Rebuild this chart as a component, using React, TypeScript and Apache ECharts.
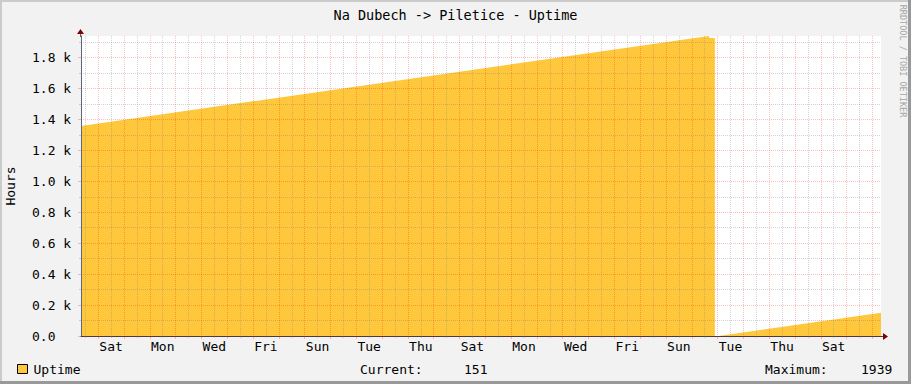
import { useEffect, useRef } from 'react';
import * as echarts from 'echarts';

const TITLE = 'Na Dubech -> Piletice - Uptime';
const SERIES_NAME = 'Uptime';
const Y_NAME = 'Hours';
const WATERMARK = 'RRDTOOL / TOBI OETIKER';

// time axis: hours relative to the first midnight shown (Sat 00:00)
const X_START = -16;
const X_END = 728;

// readings (hours, uptime in hours)
const uptimeHours = [-16, 568, 568.5, 573.5, 574, 577, 728];
const uptimeValues: (number | null)[] = [1358, 1939, 1926, 1926, null, 0, 151];

const dayLabels = ['Sat', 'Mon', 'Wed', 'Fri', 'Sun', 'Tue', 'Thu', 'Sat', 'Mon', 'Wed', 'Fri', 'Sun', 'Tue', 'Thu', 'Sat'];
const yTickValues = [0, 200, 400, 600, 800, 1000, 1200, 1400, 1600, 1800];
const yTickLabels = ['0.0', '0.2 k', '0.4 k', '0.6 k', '0.8 k', '1.0 k', '1.2 k', '1.4 k', '1.6 k', '1.8 k'];

const FONT = '"DejaVu Sans Mono", monospace';
const FILL = '#FFC73B';
const RED_GRID = 'rgba(255,0,0,0.26)';
const GREY_GRID = 'rgba(120,120,120,0.33)';

export default function App() {
  const ref = useRef<HTMLDivElement>(null);

  useEffect(() => {
    if (!ref.current) return;
    const chart = echarts.init(ref.current, undefined, { renderer: 'svg' });

    const numbers = uptimeValues.filter((v): v is number => v !== null);
    const maxVal = Math.max(...numbers);
    const current = numbers[numbers.length - 1];

    const midnights: number[] = [];
    for (let h = 0; h <= X_END; h += 24) if (h > X_START && h < X_END) midnights.push(h);
    const noons: number[] = [];
    for (let h = -12; h <= X_END; h += 24) if (h > X_START && h < X_END) noons.push(h);
    const labelHours = dayLabels.map((_, i) => 12 + 48 * i);
    const yMinor: number[] = [];
    for (let v = 100; v < maxVal; v += 200) yMinor.push(v);

    const data = uptimeHours.map((h, i) => [h, uptimeValues[i]]);

    const textStyle = { fontFamily: FONT, fontSize: 13, color: '#000' };

    chart.setOption({
      animation: false,
      backgroundColor: '#F2F2F2',
      title: {
        text: TITLE,
        left: 'center',
        top: 8,
        padding: 0,
        textStyle: { fontFamily: FONT, fontSize: 13.5, fontWeight: 'normal', color: '#000', lineHeight: 14 },
      },
      legend: {
        left: 17,
        top: 362.5,
        padding: 0,
        itemWidth: 10,
        itemHeight: 9,
        icon: 'rect',
        itemStyle: { borderColor: '#000', borderWidth: 1 },
        textStyle: { ...textStyle, lineHeight: 13, padding: [0, 0, 0, 1] },
        data: [SERIES_NAME],
      },
      grid: {
        left: 81,
        top: 36,
        width: 800,
        height: 300,
        show: true,
        backgroundColor: '#FFFFFF',
        borderWidth: 0,
        containLabel: false,
        outerBoundsMode: 'none',
      },
      xAxis: [
        {
          type: 'value', min: X_START, max: X_END, position: 'bottom', z: 3,
          axisLine: { show: true, onZero: false, lineStyle: { color: '#4a3a3a', width: 1 } },
          axisTick: { show: true, customValues: midnights, length: 3, inside: false, lineStyle: { color: RED_GRID } },
          axisLabel: { show: false },
          splitLine: { show: true, lineStyle: { color: RED_GRID, type: [1, 1], width: 1 } },
        },
        {
          type: 'value', min: X_START, max: X_END, position: 'bottom', z: 3,
          axisLine: { show: false, onZero: false },
          axisTick: { show: true, customValues: noons, length: 2, lineStyle: { color: GREY_GRID } },
          axisLabel: { show: false },
          splitLine: { show: true, lineStyle: { color: GREY_GRID, type: [1, 1], width: 1 } },
        },
        {
          type: 'value', min: X_START, max: X_END, position: 'bottom', z: 3,
          axisLine: { show: false, onZero: false },
          axisTick: { show: false, customValues: labelHours },
          axisLabel: {
            show: true,
            customValues: labelHours,
            margin: 4,
            ...textStyle,
            formatter: (v: number) => {
              const i = labelHours.indexOf(v);
              return i >= 0 ? dayLabels[i] : '';
            },
          },
          splitLine: { show: false },
        },
      ],
      yAxis: [
        {
          type: 'value', min: 0, max: maxVal, position: 'left', z: 3,
          name: Y_NAME,
          nameLocation: 'middle',
          nameRotate: 90,
          nameGap: 64,
          nameTextStyle: { ...textStyle },
          axisLine: { show: true, onZero: false, lineStyle: { color: '#5d6578', width: 1 } },
          axisTick: { show: true, customValues: yTickValues, length: 3, lineStyle: { color: RED_GRID } },
          axisLabel: {
            show: true,
            customValues: yTickValues,
            align: 'left',
            margin: 49,
            ...textStyle,
            formatter: (v: number) => {
              const i = yTickValues.indexOf(v);
              return i >= 0 ? yTickLabels[i] : '';
            },
          },
          splitLine: { show: true, lineStyle: { color: RED_GRID, type: [1, 1], width: 1 } },
        },
        {
          type: 'value', min: 0, max: maxVal, position: 'left', z: 3,
          axisLine: { show: false, onZero: false },
          axisTick: { show: true, customValues: yMinor, length: 2, lineStyle: { color: GREY_GRID } },
          axisLabel: { show: false },
          splitLine: { show: true, lineStyle: { color: GREY_GRID, type: [1, 1], width: 1 } },
        },
      ],
      series: [
        {
          name: SERIES_NAME,
          type: 'line',
          xAxisIndex: 0,
          yAxisIndex: 0,
          z: 1,
          data,
          showSymbol: false,
          connectNulls: false,
          color: FILL,
          lineStyle: { width: 0, color: FILL },
          areaStyle: { color: FILL, opacity: 1 },
        },
      ],
      graphic: [
        // frame shading
        { type: 'rect', shape: { x: 0, y: 0, width: 911, height: 2 }, style: { fill: '#CBCBCB' }, silent: true },
        { type: 'rect', shape: { x: 0, y: 0, width: 2, height: 384 }, style: { fill: '#CBCBCB' }, silent: true },
        { type: 'rect', shape: { x: 908, y: 0, width: 3, height: 384 }, style: { fill: '#999999' }, silent: true },
        { type: 'rect', shape: { x: 0, y: 381, width: 911, height: 3 }, style: { fill: '#999999' }, silent: true },
        // axis extensions + arrows
        { type: 'line', shape: { x1: 880, y1: 336.5, x2: 884, y2: 336.5 }, style: { stroke: '#4a3a3a', lineWidth: 1 }, z: 10 },
        { type: 'polygon', shape: { points: [[883, 333], [888, 336.5], [883, 340]] }, style: { fill: '#7F0000' }, z: 10 },
        { type: 'line', shape: { x1: 80.5, y1: 37, x2: 80.5, y2: 33 }, style: { stroke: '#5d6578', lineWidth: 1 }, z: 10 },
        { type: 'polygon', shape: { points: [[77, 34], [80.5, 29], [84, 34]] }, style: { fill: '#7F0000' }, z: 10 },
        // watermark
        {
          type: 'text', x: 903, y: 61, rotation: -Math.PI / 2,
          style: { text: WATERMARK, font: `8.5px ${FONT}`, fill: '#A6A6A6', align: 'center', verticalAlign: 'middle' },
        },
        // legend values
        { type: 'text', x: 360, y: 369, style: { text: 'Current:', font: `13px ${FONT}`, fill: '#000', verticalAlign: 'middle' } },
        { type: 'text', x: 464, y: 369, style: { text: String(current), font: `13px ${FONT}`, fill: '#000', verticalAlign: 'middle' } },
        { type: 'text', x: 765, y: 369, style: { text: 'Maximum:', font: `13px ${FONT}`, fill: '#000', verticalAlign: 'middle' } },
        { type: 'text', x: 861, y: 369, style: { text: String(maxVal), font: `13px ${FONT}`, fill: '#000', verticalAlign: 'middle' } },
      ],
    });

    return () => chart.dispose();
  }, []);

  return <div ref={ref} style={{ position: 'fixed', left: 0, top: 0, width: 911, height: 384 }} />;
}
